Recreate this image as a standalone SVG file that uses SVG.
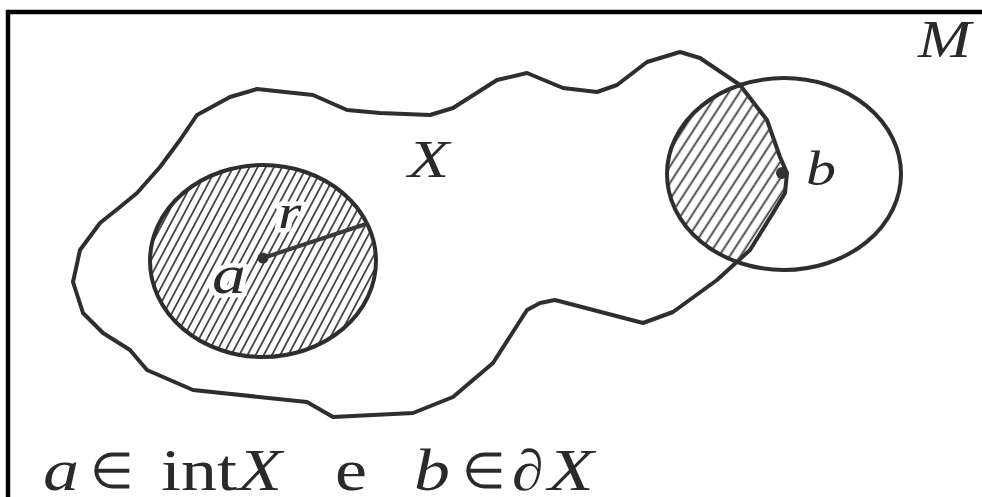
<svg xmlns="http://www.w3.org/2000/svg" width="982" height="497" viewBox="0 0 982 497">
<style>
.ink{fill:none;stroke:#2e2e2e;stroke-linejoin:round;stroke-linecap:round}
.lbl{font-family:"Liberation Serif","Times New Roman",serif;font-style:italic;fill:#2a2a2a}
.up{font-family:"Liberation Serif","Times New Roman",serif;fill:#2a2a2a}
.ko{stroke:#fff;stroke-width:9;paint-order:stroke;stroke-linejoin:round}
</style>
<defs>
<pattern id="hatchA" patternUnits="userSpaceOnUse" width="7.2" height="8" patternTransform="rotate(28)">
<line x1="3.6" y1="-1" x2="3.6" y2="9" stroke="#3a3a3a" stroke-width="1.7"/>
</pattern>
<pattern id="hatchB" patternUnits="userSpaceOnUse" width="9" height="8" patternTransform="rotate(33)">
<line x1="4.5" y1="-1" x2="4.5" y2="9" stroke="#3a3a3a" stroke-width="1.8"/>
</pattern>
<path id="blobPath" d="M257,89 L313,95 L347,110 L380,113 L430,115 L453,108 L497,80 L527,73 L563,88 L597,92 L617,85 L647,62 L680,52 L700,58 L740,85 L767,120 L780,157 L787,173 L785,193 L773,213 L750,250 L717,280 L673,312 L643,323 L555,300 L540,303 L527,310 L493,363 L453,397 L413,413 L333,417 L307,402 L193,390 L147,370 L130,350 L103,333 L83,313 L73,282 L80,250 L100,223 L120,207 L137,193 L160,167 L180,140 L197,115 L230,97 Z"/>
<clipPath id="clipX">
<use href="#blobPath"/>
</clipPath>
</defs>

<path id="frame" d="M8,497 V12 H982" fill="none" stroke="#000" stroke-width="4.5"/>

<g id="setX">
<use href="#blobPath" class="ink" stroke-width="4"/>
<text class="lbl" transform="translate(408,177) scale(1.3,1)" font-size="52">X</text>
</g>

<g id="ballA">
<ellipse cx="263" cy="261" rx="113" ry="96" fill="url(#hatchA)"/>
<ellipse class="ink" cx="263" cy="261" rx="113" ry="96" stroke-width="4"/>
</g>

<g id="ballB">
<ellipse cx="784" cy="174" rx="117" ry="96" fill="url(#hatchB)" clip-path="url(#clipX)"/>
<ellipse class="ink" cx="784" cy="174" rx="117" ry="96" stroke-width="4"/>
</g>

<g id="connectors">
<line id="radius" x1="263" y1="258" x2="366" y2="224" stroke="#3a3a3a" stroke-width="4" stroke-linecap="round"/>
</g>

<g id="pointA">
<text class="lbl ko" transform="translate(212,293) scale(1.25,1)" font-size="54">a</text>
<text class="lbl ko" transform="translate(278,228) scale(1.25,1)" font-size="48">r</text>
<circle cx="263" cy="258" r="5.5" fill="#333"/>
</g>

<g id="pointB">
<circle cx="782" cy="173" r="6" fill="#333"/>
<text class="lbl" transform="translate(806,185) scale(1.25,1)" font-size="48">b</text>
</g>

<g id="spaceM">
<text class="lbl" transform="translate(918,57) scale(1.2,1)" font-size="53">M</text>
</g>

<g id="caption">
<text class="lbl" transform="translate(43,490) scale(1.2,1)" font-size="60">a</text>
<text class="up" transform="translate(90,488)" font-size="50">∈</text>
<text class="up" transform="translate(161,490) scale(1.2,1)" font-size="60">int</text>
<text class="lbl" transform="translate(238,490) scale(1.2,1)" font-size="60">X</text>
<text class="up" transform="translate(335,490) scale(1.2,1)" font-size="60">e</text>
<text class="lbl" transform="translate(414,490) scale(1.2,1)" font-size="60">b</text>
<text class="up" transform="translate(462,488)" font-size="50">∈</text>
<text class="up" transform="translate(512,490) scale(1.1,1)" font-size="58">∂</text>
<text class="lbl" transform="translate(548,490) scale(1.25,1)" font-size="60">X</text>
</g>
</svg>
